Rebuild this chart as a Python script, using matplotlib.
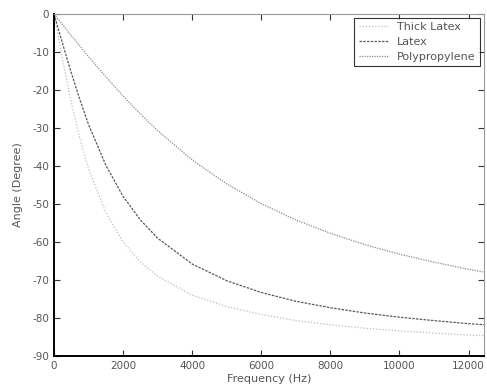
import matplotlib.pyplot as plt

plt.rcParams["axes.unicode_minus"] = False

# Frequency points (Hz) and phase angle (degrees)
freq = [0, 250, 500, 750, 1000, 1500, 2000, 2500, 3000, 4000, 5000, 6000,
        7000, 8000, 9000, 10000, 11000, 12000, 12500]

thick_latex = [0, -12.2, -23.3, -32.9, -40.8, -52.3, -60.0, -65.3, -69.0, -74.0,
               -77.0, -79.1, -80.7, -81.8, -82.7, -83.4, -84.0, -84.5, -84.7]
latex = [0, -7.9, -15.5, -22.6, -29.1, -39.8, -48.0, -54.2, -59.0, -65.8,
         -70.2, -73.3, -75.6, -77.3, -78.7, -79.8, -80.7, -81.5, -81.8]
polypropylene = [0, -2.8, -5.7, -8.4, -11.2, -16.5, -21.6, -26.3, -30.7, -38.4,
                 -44.7, -49.9, -54.2, -57.7, -60.7, -63.2, -65.3, -67.2, -68.0]

x_ticks = [0, 2000, 4000, 6000, 8000, 10000, 12000]
y_ticks = [0, -10, -20, -30, -40, -50, -60, -70, -80, -90]

fig = plt.figure(figsize=(4.87, 3.92), dpi=100)
ax = fig.add_axes([0.111, 0.092, 0.883, 0.872])

ax.plot(freq, thick_latex, color="#bdbdbd", linestyle=(0, (1, 1.5)), linewidth=0.9, label="Thick Latex")
ax.plot(freq, latex, color="#5a5a5a", linestyle=(0, (2, 1)), linewidth=0.9, label="Latex")
ax.plot(freq, polypropylene, color="#8c8c8c", linestyle=(0, (1, 1)), linewidth=0.9, label="Polypropylene")

ax.set_xlim(0, 12450)
ax.set_ylim(-90, 0)
ax.set_xticks(x_ticks)
ax.set_yticks(y_ticks)

tick_color = "#555555"
ax.tick_params(direction="in", top=True, right=True, length=4, width=0.8,
               labelsize=7.5, labelcolor=tick_color, color="#333333")
for side in ["left", "bottom"]:
    ax.spines[side].set_linewidth(1.4)
    ax.spines[side].set_color("black")
for side in ["top", "right"]:
    ax.spines[side].set_linewidth(0.8)
    ax.spines[side].set_color("#999999")

ax.set_xlabel("Frequency (Hz)", fontsize=8, color=tick_color, labelpad=2)
ax.set_ylabel("Angle (Degree)", fontsize=8, color=tick_color, labelpad=7)

leg = ax.legend(loc="upper right", fontsize=8, frameon=True, fancybox=False,
                handlelength=2.6, handletextpad=0.8, borderpad=0.4,
                labelspacing=0.45, borderaxespad=0,
                bbox_to_anchor=(0.99, 0.99))
leg.get_frame().set_edgecolor("black")
leg.get_frame().set_linewidth(0.8)
for t in leg.get_texts():
    t.set_color(tick_color)

fig.savefig("out.png", dpi=100)
